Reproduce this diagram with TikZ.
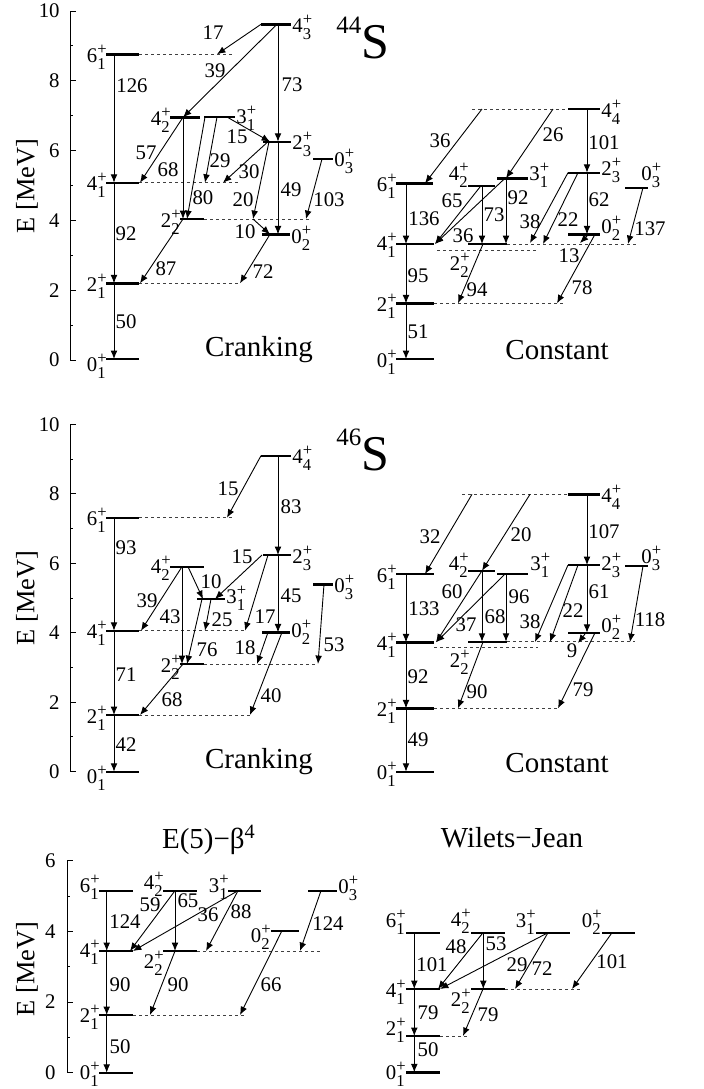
\documentclass[tikz,border=0pt]{standalone}
\usepackage{fontspec}
\setmainfont{Liberation Serif}
\usetikzlibrary{arrows.meta}
\newcommand{\sfz}{\fontsize{8.3}{9}\selectfont}
\newcommand{\st}[2]{#1\makebox[0pt][l]{\raisebox{4pt}{\sfz+}}\raisebox{-3.5pt}{\sfz#2}}
\newcommand{\nf}{\fontsize{10.4}{12}\selectfont}
\newcommand{\tfont}{\fontsize{14.5}{17}\selectfont}
\newcommand{\afont}{\fontsize{13.2}{15}\selectfont}
\newcommand{\iso}[1]{{\fontsize{25}{28}\selectfont\raisebox{0.5em}{\fontsize{12.5}{14}\selectfont #1}S}}

\begin{document}
\begin{tikzpicture}[x=0.5pt,y=-0.5pt,>={Latex[length=4.2pt,width=3.4pt]},
 lev/.style={line width=1.2pt},
 tr/.style={->,line width=0.45pt},
 ext/.style={line width=0.45pt,dash pattern=on 1.5pt off 1.5pt,black!75},
 axis/.style={line width=0.5pt},
 num/.style={inner sep=0pt,font=\nf},
 lbl/.style={inner sep=0pt,font=\nf},
 title/.style={inner sep=0pt,font=\tfont}]
\useasboundingbox (0,0) rectangle (704,1089);

% energy axes
\draw[axis] (70,11) -- (70,360);
\foreach \e in {0,2,...,10} {
  \draw[axis] (70,{360-34.9*\e}) -- ++(6,0);
  \node[num,anchor=east] (ta\e) at (60,{360-34.9*\e}) {\e};}
\foreach \e in {1,3,...,9} \draw[axis] (70,{360-34.9*\e}) -- ++(3,0);
\node[rotate=90,font=\afont] (ya) at (27,186) {E [MeV]};

\draw[axis] (70,424.3) -- (70,771.7);
\foreach \e in {0,2,...,10} {
  \draw[axis] (70,{771.7-34.74*\e}) -- ++(6,0);
  \node[num,anchor=east] (tb\e) at (60,{771.7-34.74*\e}) {\e};}
\foreach \e in {1,3,...,9} \draw[axis] (70,{771.7-34.74*\e}) -- ++(3,0);
\node[rotate=90,font=\afont] (yb) at (27,598) {E [MeV]};

\draw[axis] (67,861) -- (67,1072.7);
\foreach \e in {0,2,...,6} {
  \draw[axis] (67,{1072.7-35.3*\e}) -- ++(6,0);
  \node[num,anchor=east] (tc\e) at (56,{1072.7-35.3*\e}) {\e};}
\foreach \e in {1,3,5} \draw[axis] (67,{1072.7-35.3*\e}) -- ++(3,0);
\node[rotate=90,font=\afont] (yc) at (27,969) {E [MeV]};

% 44S, cranking
\foreach \xa/\xb/\y in {106/139/54.3,261/291/24.3,170/200/117.3,204/235/117,
  263/291/141.7,313/333/159,106/139/182.7,180/204/219,262/290/234.3,
  106/139/283.3,106/139/359}
  \draw[lev] (\xa,\y) -- (\xb,\y);
\foreach \xa/\xb/\y in {139/233/54.3,139/240/182.7,204/310/219,139/240/283.3}
  \draw[ext] (\xa,\y) -- (\xb,\y);
\foreach \xa/\ya/\xb/\yb in {261/24.3/217/54.3,277/24.3/183/117.3,
  278/24.3/278/141.7,114/54.3/114/182.7,183/117.3/140/182.7,183/117.3/183/219,
  205/117/187/219,217/117/205/182.7,227/117/270/141.7,268/141.7/223/182.7,
  269/141.7/253/219,253/219/270/234.3,278/141.7/278/234.3,322/159/306/219,
  114/182.7/114/283.3,183/219/140/283.3,270/234.3/240/283.3,114/283.3/114/359}
  \draw[tr] (\xa,\ya) -- (\xb,\yb);
\foreach \x/\y/\t [count=\i] in {213/33/17,215/71/39,292/85/73,132/86/126,
  146/153/57,168/170/68,203/198/80,220/161/29,237/137/15,249/172/30,
  243/200/20,245/232/10,291/190/49,329/200/103,126/234/92,166/269/87,
  263/272/72,126/322/50}
  \node[num] (a\i) at (\x,\y) {\t};
\foreach \x/\y/\j/\k/\a [count=\i] in {106/62/6/1/east,292/32/4/3/west,
  170/125/4/2/east,236/123/3/1/west,292/149/2/3/west,334/166/0/3/west,
  106/190.5/4/1/east,180/227/2/2/east,291/243/0/2/west,106/291/2/1/east,
  106/371/0/1/east}
  \node[lbl,anchor=base \a] (la\i) at (\x,\y) {\st{\j}{\k}};
\node[title] (cra) at (259,350) {Cranking};
\node[inner sep=0pt,anchor=base west] (s44) at (336,58) {\iso{44}};

% 44S, constant
\foreach \xa/\xb/\y in {568/600/109,396/433/183.3,468/495/185.7,497/528/178.3,
  568/600/172.7,625/648/187.7,396/434/244,468/507/244,568/600/234.3,
  396/434/303.3,396/434/359}
  \draw[lev] (\xa,\y) -- (\xb,\y);
\foreach \xa/\xb/\y in {472/568/109,437/537/250,507/637/244,434/563/303.3}
  \draw[ext] (\xa,\y) -- (\xb,\y);
\foreach \xa/\ya/\xb/\yb in {482/109/425/183.3,553/109/506/178.3,
  587/109/587/172.7,481/185.7/435/244,505/178.3/435/244,482/185.7/482/244,
  506/178.3/506/244,568/172.7/530/243,578/172.7/543/244,587/172.7/587/234.3,
  588/235/580/243,643/187.7/628/244,406/183.3/406/244,406/244/406/303.3,
  483/244/458/303.3,595/234.3/557/303.3,406/303.3/406/359}
  \draw[tr] (\xa,\ya) -- (\xb,\yb);
\foreach \x/\y/\t [count=\i] in {440/141/36,553/135/26,604/143/101,452/201/65,
  463/236/36,494/215/73,518/198/92,530/222/38,568/220/22,599/200/62,
  569/256/13,650/229/137,424/219/136,418/276/95,477/290/94,582/288/78,
  418/332/51}
  \node[num] (b\i) at (\x,\y) {\t};
\foreach \x/\y/\j/\k/\a [count=\i] in {601/117/4/4/west,396/191.5/6/1/east,
  468/180/4/2/east,529/180/3/1/west,601/175/2/3/west,641/180/0/3/west,
  396/250/4/1/east,469/270/2/2/east,601/233/0/2/west,396/311/2/1/east,
  396/367.5/0/1/east}
  \node[lbl,anchor=base \a] (lb\i) at (\x,\y) {\st{\j}{\k}};
\node[title] (coa) at (557,350) {Constant};

% 46S, cranking
\foreach \xa/\xb/\y in {261/291/455.7,106/139/517.7,263/291/555,170/204/566.7,
  197/225/599,313/333/584.3,106/139/630.7,262/290/632.3,180/204/664,
  106/139/715,106/139/771.7}
  \draw[lev] (\xa,\y) -- (\xb,\y);
\foreach \xa/\xb/\y in {139/235/517.7,139/245/630.7,204/318/664,139/252/715}
  \draw[ext] (\xa,\y) -- (\xb,\y);
\foreach \xa/\ya/\xb/\yb in {261/455.7/227/517.7,278/455.7/278/555,
  114/517.7/114/630.7,262/555/215/599,188/566.7/203/599,182/566.7/141/630.7,
  182/566.7/182/664,202/599/187/664,211/599/205/630.7,268/555/245/630.7,
  278/555/278/632.3,268/632.3/257/664,324/584.3/318/664,282/632.3/250/715,
  114/630.7/114/715,183/664/140/715,114/715/114/771.7}
  \draw[tr] (\xa,\ya) -- (\xb,\yb);
\foreach \x/\y/\t [count=\i] in {228/489/15,291/507/83,126/548/93,242/557/15,
  211/582/10,147/601/39,170/617/43,207/650/76,222/620/25,265/617/17,
  291/596/45,245/648/18,334/645/53,271/696/40,126/675/71,172/700/68,
  126/745/42}
  \node[num] (c\i) at (\x,\y) {\t};
\foreach \x/\y/\j/\k/\a [count=\i] in {292/463/4/4/west,106/525.5/6/1/east,
  292/563/2/3/west,170/573/4/2/east,226/603/3/1/west,334/592/0/3/west,
  106/638.5/4/1/east,291/637/0/2/west,180/672/2/2/east,106/723/2/1/east,
  106/783/0/1/east}
  \node[lbl,anchor=base \a] (lc\i) at (\x,\y) {\st{\j}{\k}};
\node[title] (crb) at (259,762) {Cranking};
\node[inner sep=0pt,anchor=base west] (s46) at (336,470) {\iso{46}};

% 46S, constant
\foreach \xa/\xb/\y in {568/600/494.3,568/600/565,625/648/566,396/434/574,
  468/495/570.7,497/528/574,396/434/642.3,468/507/641.7,568/600/632.7,
  396/434/708.3,396/434/771.7}
  \draw[lev] (\xa,\y) -- (\xb,\y);
\foreach \xa/\xb/\y in {462/568/494.3,434/538/647.3,507/635/641.7,434/558/708.3}
  \draw[ext] (\xa,\y) -- (\xb,\y);
\foreach \xa/\ya/\xb/\yb in {472/494.3/425/574,530/494.3/482/570.7,
  587/494.3/587/565,482/570.7/436/642.3,505/574/436/642.3,482/570.7/482/641.7,
  506/574/506/641.7,568/565/535/642,578/565/550/642,587/565/587/632.7,
  585/634/578/643,643/566/630/642,406/574/406/642.3,483/642/458/708.3,
  595/632.7/558/708.3,406/642.3/406/708.3,406/708.3/406/771.7}
  \draw[tr] (\xa,\ya) -- (\xb,\yb);
\foreach \x/\y/\t [count=\i] in {430/537/32,521/535/20,604/532/107,452/592/60,
  466/625/37,495/617/68,519/597/96,530/622/38,573/611/22,599/592/61,
  572/651/9,650/620/118,424/609/133,477/692/90,583/690/79,418/677/92,
  418/740/49}
  \node[num] (d\i) at (\x,\y) {\t};
\foreach \x/\y/\j/\k/\a [count=\i] in {601/502/4/4/west,601/570/2/3/west,
  641/563/0/3/west,396/582/6/1/east,468/570/4/2/east,530/570/3/1/west,
  396/650/4/1/east,469/667/2/2/east,601/632/0/2/west,396/716/2/1/east,
  396/779.5/0/1/east}
  \node[lbl,anchor=base \a] (ld\i) at (\x,\y) {\st{\j}{\k}};
\node[title] (cob) at (557,763) {Constant};

% E(5)-beta^4
\foreach \xa/\xb/\y in {99/133/890.7,163/197/890.7,228/261/890.7,308/337/890.7,
  271/299/930.7,99/133/951,163/197/951,99/133/1015,99/133/1072.7}
  \draw[lev] (\xa,\y) -- (\xb,\y);
\foreach \xa/\xb/\y in {197/323/951,133/245/1015}
  \draw[ext] (\xa,\y) -- (\xb,\y);
\foreach \xa/\ya/\xb/\yb in {106.7/890.7/106.7/951,175/890.7/130/951,
  175/890.7/175/951,238/890.7/133/951,238/890.7/206/951,321/890.7/300/951,
  106.7/951/106.7/1015,175/951/150/1015,282/930.7/240/1015,
  106.7/1015/106.7/1072.7}
  \draw[tr] (\xa,\ya) -- (\xb,\yb);
\foreach \x/\y/\t [count=\i] in {125/922/124,150/905/59,188/901/65,208/915/36,
  241/912/88,328/924/124,120/985/90,178/985/90,271/985/66,120/1047/50}
  \node[num] (e\i) at (\x,\y) {\t};
\foreach \x/\y/\j/\k/\a [count=\i] in {99/892/6/1/east,163/889/4/2/east,
  228/892/3/1/east,338/893/0/3/west,270/942/0/2/east,99/957/4/1/east,
  163/968/2/2/east,99/1022/2/1/east,99/1079/0/1/east}
  \node[lbl,anchor=base \a] (le\i) at (\x,\y) {\st{\j}{\k}};
\node[title] (e5) at (209,840) {E(5)−β\textsuperscript{4}};

% Wilets-Jean
\foreach \xa/\xb/\y in {406/440/932.7,471/505/932.7,536/570/932.7,602/635/932.7,
  406/440/989,471/505/989,406/440/1036,406/440/1072.3}
  \draw[lev] (\xa,\y) -- (\xb,\y);
\foreach \xa/\xb/\y in {505/580/989,440/470/1036}
  \draw[ext] (\xa,\y) -- (\xb,\y);
\foreach \xa/\ya/\xb/\yb in {414.3/932.7/414.3/989,483/932.7/438/989,
  483.3/932.7/483.3/989,548/932.7/440/989,548/932.7/515/989,612/932.7/572/989,
  414.3/989/414.3/1036,483/989/463/1036,414.3/1036/414.3/1072.3}
  \draw[tr] (\xa,\ya) -- (\xb,\yb);
\foreach \x/\y/\t [count=\i] in {432/965/101,456/947/48,496/944/53,517/965/29,
  542/969/72,612/962/101,428/1013/79,488/1015/79,428/1050/50}
  \node[num] (f\i) at (\x,\y) {\t};
\foreach \x/\y/\j/\k/\a [count=\i] in {405/927/6/1/east,470/926/4/2/east,
  535/927/3/1/east,601/927/0/2/east,405/997/4/1/east,470/1006/2/2/east,
  405/1035/2/1/east,405/1079/0/1/east}
  \node[lbl,anchor=base \a] (lf\i) at (\x,\y) {\st{\j}{\k}};
\node[title] (wj) at (512,838) {Wilets−Jean};
\end{tikzpicture}
\end{document}
